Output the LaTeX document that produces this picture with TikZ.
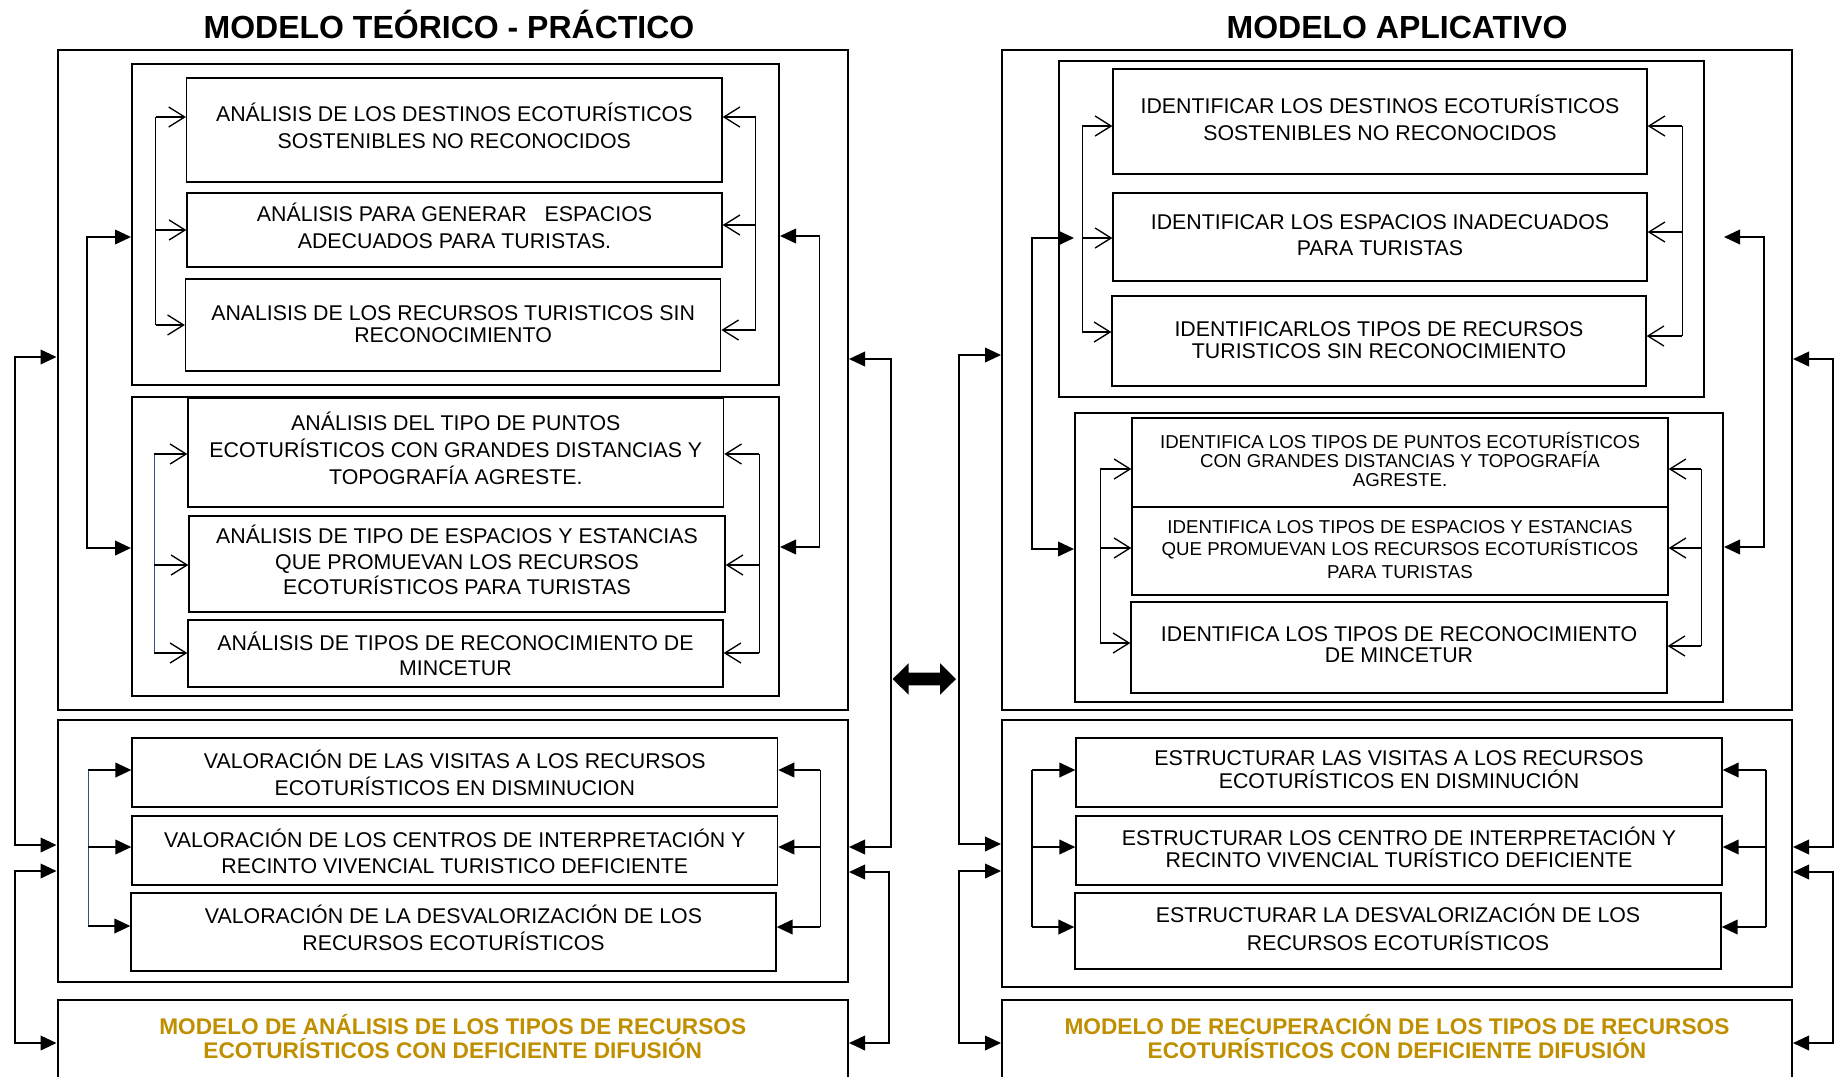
\documentclass[tikz,border=0pt]{standalone}
\usepackage{fontspec}
\setmainfont{Liberation Sans}
\usetikzlibrary{arrows.meta}
\usetikzlibrary{fit}
\definecolor{oro}{RGB}{191,143,0}
\definecolor{azulfino}{RGB}{46,84,130}

\begin{document}
\begin{tikzpicture}[x=0.75pt,y=0.75pt,yscale=-1,xscale=1,
  marco/.style={draw, line width=1.5pt, inner sep=0pt},
  caja/.style={draw, line width=1pt, inner sep=0pt, font=\fontsize{16}{20.25}\selectfont},
  tam/.style 2 args={minimum width=#1*0.75pt, minimum height=#2*0.75pt},
  interlin/.style={font=\fontsize{16}{#1}\selectfont},
  chica/.style={font=\fontsize{14}{#1}\selectfont},
  resultado/.style={caja, line width=1.5pt, text=oro, font=\bfseries\fontsize{17}{18.5}\selectfont},
  titulo/.style={anchor=base, font=\bfseries\fontsize{24}{28}\selectfont},
  fino/.style={line width=0.75pt},
  abierta/.style={line width=1pt, -{Straight Barb[length=12pt,width=15pt]}},
  punta/.style={line width=1.3pt, -{Triangle[length=12pt,width=11pt]}},
  doble/.style={line width=1.3pt, {Triangle[length=12pt,width=11pt]}-{Triangle[length=12pt,width=11pt]}}]
\useasboundingbox (0,0) rectangle (1835,1076);

% Titulos
\node[titulo] (t1) at (449,38) {MODELO TEÓRICO - PRÁCTICO};
\node[titulo] (t2) at (1397,38) {MODELO APLICATIVO};

%% ---------------- modelo teorico - practico ----------------
\node[marco, fit={(57.5,50) (848,710)}] (O1) {};
\node[marco, fit={(132,64) (779,385)}] (A) {};
\node[caja, tam={535.4}{104}] (A1) at (454.3,130) {\begin{tabular}{@{}c@{}}ANÁLISIS DE LOS DESTINOS ECOTURÍSTICOS\\SOSTENIBLES NO RECONOCIDOS\end{tabular}};
\node[caja, tam={535}{74}] (A2) at (454.5,230) {\begin{tabular}{@{}c@{}}ANÁLISIS PARA GENERAR\ \ \ ESPACIOS\\ADECUADOS PARA TURISTAS.\end{tabular}};
\node[caja, interlin=16.5, tam={535.2}{92}] (A3) at (453.1,325) {\begin{tabular}{@{}c@{}}\rule{0pt}{14pt}ANALISIS DE LOS RECURSOS TURISTICOS SIN\\RECONOCIMIENTO\end{tabular}};
\node[marco, fit={(132,397) (779,696)}] (B) {};
\node[caja, tam={535.6}{109}] (B1) at (455.8,452.5) {\begin{tabular}{@{}c@{}}ANÁLISIS DEL TIPO DE PUNTOS\\ECOTURÍSTICOS CON GRANDES DISTANCIAS Y\\TOPOGRAFÍA AGRESTE.\end{tabular}};
\node[caja, interlin=19.5, tam={536}{96}] (B2) at (457,564) {\begin{tabular}{@{}c@{}}ANÁLISIS DE TIPO DE ESPACIOS Y ESTANCIAS\\QUE PROMUEVAN LOS RECURSOS\\[-1pt]ECOTURÍSTICOS PARA TURISTAS\end{tabular}};
\node[caja, interlin=18.75, tam={535}{67}] (B3) at (455.5,653.5) {\begin{tabular}{@{}c@{}}\rule{0pt}{20pt}ANÁLISIS DE TIPOS DE RECONOCIMIENTO DE\\MINCETUR\end{tabular}};
\node[marco, fit={(57.5,720) (848,982)}] (O2) {};
\node[caja, tam={645.6}{69}] (C1) at (454.8,772.5) {\begin{tabular}{@{}c@{}}\rule{0pt}{20pt}VALORACIÓN DE LAS VISITAS A LOS RECURSOS\\ECOTURÍSTICOS EN DISMINUCION\end{tabular}};
\node[caja, interlin=19.5, tam={645.6}{69}] (C2) at (454.8,850.5) {\begin{tabular}{@{}c@{}}\rule{0pt}{21.5pt}VALORACIÓN DE LOS CENTROS DE INTERPRETACIÓN Y\\RECINTO VIVENCIAL TURISTICO DEFICIENTE\end{tabular}};
\node[caja, tam={645}{78}] (C3) at (453.5,932) {\begin{tabular}{@{}c@{}}VALORACIÓN DE LA DESVALORIZACIÓN DE LOS\\RECURSOS ECOTURÍSTICOS\end{tabular}};
\node[resultado, tam={790.5}{81}] (O3) at (452.75,1040.5) {\begin{tabular}{@{}c@{}}MODELO DE ANÁLISIS DE LOS TIPOS DE RECURSOS\\[-2.5pt]ECOTURÍSTICOS CON DEFICIENTE DIFUSIÓN\end{tabular}};

% llaves bloque A
\coordinate (aL) at (155.5,0);
\coordinate (aR) at (755.7,0);
\draw[fino] (aL |- 0,117) -- (aL |- 0,325);
\foreach \y/\n in {117/A1,230/A2,325/A3}
  \draw[abierta] (aL |- 0,\y) -- (\n.west |- 0,\y);
\draw[fino] (aR |- 0,117) -- (aR |- 0,330);
\foreach \y/\n in {117/A1,225/A2,330/A3}
  \draw[abierta] (aR |- 0,\y) -- (\n.east |- 0,\y);

% llaves bloque B
\coordinate (bL) at (154,0);
\coordinate (bR) at (759,0);
\draw[fino, azulfino] (bL |- 0,454) -- (bL |- 0,653);
\foreach \y/\n in {454/B1,565/B2,653/B3}
  \draw[abierta] (bL |- 0,\y) -- (\n.west |- 0,\y);
\draw[fino] (bR |- 0,454) -- (bR |- 0,653);
\foreach \y/\n in {454/B1,565/B2,653/B3}
  \draw[abierta] (bR |- 0,\y) -- (\n.east |- 0,\y);

% A <-> B
\coordinate (abL) at (87,0);
\coordinate (abR) at (819.5,0);
\draw[doble] (A.west |- 0,237) -- (abL |- 0,237) -- (abL |- 0,548) -- (B.west |- 0,548);
\draw[doble] (A.east |- 0,236) -- (abR |- 0,236) -- (abR |- 0,547) -- (B.east |- 0,547);

% llaves bloque C
\coordinate (cL) at (88,0);
\coordinate (cR) at (820.4,0);
\draw[fino, azulfino] (cL |- 0,770) -- (cL |- 0,926);
\foreach \y/\n in {770/C1,847/C2,926/C3}
  \draw[punta] (cL |- 0,\y) -- (\n.west |- 0,\y);
\draw[line width=1.3pt] (cR |- 0,770) -- (cR |- 0,927);
\foreach \y/\n in {770/C1,847/C2,927/C3}
  \draw[punta] (cR |- 0,\y) -- (\n.east |- 0,\y);

% marcos exteriores
\coordinate (oL) at (14.7,0);
\coordinate (oR) at (891,0);
\coordinate (oR2) at (889,0);
\draw[doble] (O1.west |- 0,357) -- (oL |- 0,357) -- (oL |- 0,845) -- (O2.west |- 0,845);
\draw[doble] (O2.west |- 0,871) -- (oL |- 0,871) -- (oL |- 0,1043) -- (O3.west |- 0,1043);
\draw[doble] (O1.east |- 0,359) -- (oR |- 0,359) -- (oR |- 0,847) -- (O2.east |- 0,847);
\draw[doble] (O2.east |- 0,872) -- (oR2 |- 0,872) -- (oR2 |- 0,1043) -- (O3.east |- 0,1043);

%% ---------------- modelo aplicativo ----------------
\node[marco, fit={(1002,50) (1792,710)}] (P1) {};
\node[marco, fit={(1059,61) (1704,397)}] (D) {};
\node[caja, tam={534}{105}] (D1) at (1380,121.5) {\begin{tabular}{@{}c@{}}IDENTIFICAR LOS DESTINOS ECOTURÍSTICOS\\SOSTENIBLES NO RECONOCIDOS\end{tabular}};
\node[caja, interlin=19.5, tam={534}{88}] (D2) at (1380,237) {\begin{tabular}{@{}c@{}}IDENTIFICAR LOS ESPACIOS INADECUADOS\\PARA TURISTAS\end{tabular}};
\node[caja, interlin=16.5, tam={534}{90}] (D3) at (1379,341) {\begin{tabular}{@{}c@{}}\rule{0pt}{14pt}IDENTIFICARLOS TIPOS DE RECURSOS\\TURISTICOS SIN RECONOCIMIENTO\end{tabular}};
\node[marco, fit={(1075,413) (1723,702)}] (E) {};
\node[caja, chica=14.25, tam={536}{89}] (E1) at (1400,462.5) {\begin{tabular}{@{}c@{}}IDENTIFICA LOS TIPOS DE PUNTOS ECOTURÍSTICOS\\[-2.5pt]CON GRANDES DISTANCIAS Y TOPOGRAFÍA\\AGRESTE.\end{tabular}};
\node[caja, chica=17.25, tam={536}{88}] (E2) at (1400,551) {\begin{tabular}{@{}c@{}}IDENTIFICA LOS TIPOS DE ESPACIOS Y ESTANCIAS\\[-0.7pt]QUE PROMUEVAN LOS RECURSOS ECOTURÍSTICOS\\PARA TURISTAS\end{tabular}};
\node[caja, interlin=15.75, tam={536}{91}] (E3) at (1399,647.5) {\begin{tabular}{@{}c@{}}IDENTIFICA LOS TIPOS DE RECONOCIMIENTO\\DE MINCETUR\end{tabular}};
\node[marco, fit={(1002,720) (1792,987)}] (P2) {};
\node[caja, interlin=15.75, tam={646}{69}] (F1) at (1399,772.5) {\begin{tabular}{@{}c@{}}ESTRUCTURAR LAS VISITAS A LOS RECURSOS\\[-1.5pt]ECOTURÍSTICOS EN DISMINUCIÓN\end{tabular}};
\node[caja, interlin=16.5, tam={646}{69}] (F2) at (1399,850.5) {\begin{tabular}{@{}c@{}}ESTRUCTURAR LOS CENTRO DE INTERPRETACIÓN Y\\[-3pt]RECINTO VIVENCIAL TURÍSTICO DEFICIENTE\end{tabular}};
\node[caja, interlin=21, tam={646}{76}] (F3) at (1398,931) {\begin{tabular}{@{}c@{}}ESTRUCTURAR LA DESVALORIZACIÓN DE LOS\\RECURSOS ECOTURÍSTICOS\end{tabular}};
\node[resultado, tam={790}{81}] (P3) at (1397,1040.5) {\begin{tabular}{@{}c@{}}MODELO DE RECUPERACIÓN DE LOS TIPOS DE RECURSOS\\[-2.5pt]ECOTURÍSTICOS CON DEFICIENTE DIFUSIÓN\end{tabular}};

% llaves bloque D
\coordinate (dL) at (1082,0);
\coordinate (dR) at (1682,0);
\draw[fino] (dL |- 0,126) -- (dL |- 0,332);
\foreach \y/\n in {126/D1,238/D2,332/D3}
  \draw[abierta] (dL |- 0,\y) -- (\n.west |- 0,\y);
\draw[fino] (dR |- 0,126) -- (dR |- 0,336);
\foreach \y/\n in {126/D1,232/D2,336/D3}
  \draw[abierta] (dR |- 0,\y) -- (\n.east |- 0,\y);

% llaves bloque E
\coordinate (eL) at (1100,0);
\coordinate (eR) at (1701,0);
\draw[fino] (eL |- 0,469) -- (eL |- 0,643);
\foreach \y/\n in {469/E1,548/E2,643/E3}
  \draw[abierta] (eL |- 0,\y) -- (\n.west |- 0,\y);
\draw[fino] (eR |- 0,469) -- (eR |- 0,646);
\foreach \y/\n in {469/E1,548/E2,646/E3}
  \draw[abierta] (eR |- 0,\y) -- (\n.east |- 0,\y);

% D <-> E
\coordinate (deL) at (1032,0);
\coordinate (deR) at (1764,0);
\draw[doble] (E.west |- 0,238) -- (deL |- 0,238) -- (deL |- 0,549) -- (E.west |- 0,549);
\draw[doble] (E.east |- 0,237) -- (deR |- 0,237) -- (deR |- 0,547) -- (E.east |- 0,547);

% llaves bloque F
\coordinate (fL) at (1032,0);
\coordinate (fR) at (1766,0);
\draw[line width=1.3pt] (fL |- 0,770) -- (fL |- 0,927);
\foreach \y/\n in {770/F1,847/F2,927/F3}
  \draw[punta] (fL |- 0,\y) -- (\n.west |- 0,\y);
\draw[line width=1.3pt] (fR |- 0,770) -- (fR |- 0,927);
\foreach \y/\n in {770/F1,847/F2,927/F3}
  \draw[punta] (fR |- 0,\y) -- (\n.east |- 0,\y);

% marcos exteriores
\coordinate (pL) at (959,0);
\coordinate (pR) at (1833,0);
\draw[doble] (P1.west |- 0,355) -- (pL |- 0,355) -- (pL |- 0,844) -- (P2.west |- 0,844);
\draw[doble] (P2.west |- 0,871) -- (pL |- 0,871) -- (pL |- 0,1043) -- (P3.west |- 0,1043);
\draw[doble] (P1.east |- 0,359) -- (pR |- 0,359) -- (pR |- 0,847) -- (P2.east |- 0,847);
\draw[doble] (P2.east |- 0,872) -- (pR |- 0,872) -- (pR |- 0,1043) -- (P3.east |- 0,1043);

% flecha doble central
\fill (892.7,679) -- (908.5,663.3) -- (908.5,672.7) -- (940.2,672.7) -- (940.2,663.3) -- (956,679)
  -- (940.2,694.7) -- (940.2,685.3) -- (908.5,685.3) -- (908.5,694.7) -- cycle;

\end{tikzpicture}
\end{document}
